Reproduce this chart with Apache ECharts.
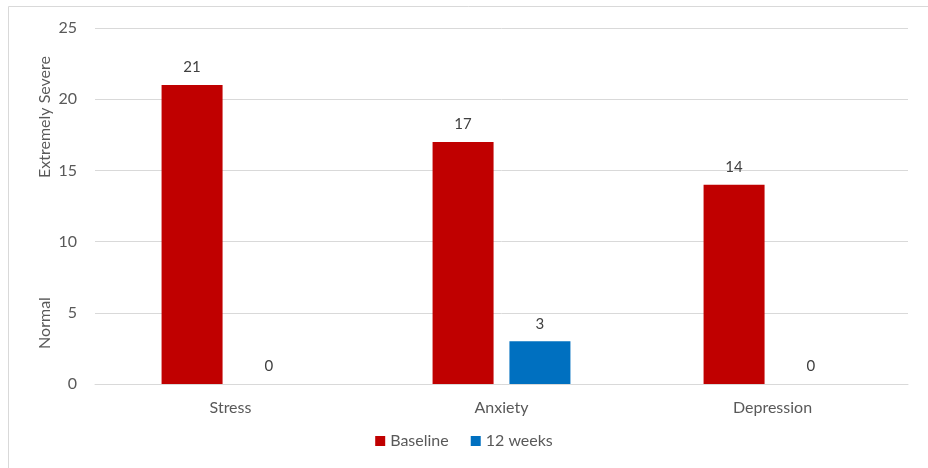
<!DOCTYPE html>
<html>
<head>
<meta charset="utf-8">
<script src="https://cdn.jsdelivr.net/npm/echarts@6/dist/echarts.min.js"></script>
<style>
html,body{margin:0;padding:0;background:#fff;}
#c{width:928px;height:468px;}
</style>
</head>
<body>
<div id="c"></div>
<script>
var categories = ['Stress', 'Anxiety', 'Depression'];
var baseline = [21, 17, 14];
var weeks12 = [0, 3, 0];
var seriesNames = ['Baseline', '12 weeks'];
var yTopLabel = 'Extremely Severe';
var yBottomLabel = 'Normal';

var FONT = 'Lato';
var chart = echarts.init(document.getElementById('c'), null, {renderer: 'canvas'});
var labelStyle = {show: true, position: 'top', distance: 10, color: '#404040', fontSize: 15, fontFamily: FONT};
chart.setOption({
  animation: false,
  backgroundColor: '#fff',
  textStyle: {fontFamily: FONT},
  grid: {left: 95, right: 20, top: 28, bottom: 84, containLabel: false},
  legend: {
    data: seriesNames,
    bottom: 14,
    left: 'center',
    icon: 'rect',
    itemWidth: 10,
    itemHeight: 10,
    itemGap: 22,
    textStyle: {color: '#595959', fontSize: 16, fontFamily: FONT}
  },
  xAxis: {
    type: 'category',
    data: categories,
    axisLine: {lineStyle: {color: '#d9d9d9'}},
    axisTick: {show: false},
    axisLabel: {color: '#595959', fontSize: 16, fontFamily: FONT, margin: 16}
  },
  yAxis: {
    type: 'value',
    min: 0, max: 25, interval: 5,
    axisLine: {show: false},
    axisTick: {show: false},
    splitLine: {lineStyle: {color: '#d9d9d9'}},
    axisLabel: {color: '#595959', fontSize: 16, fontFamily: FONT, margin: 18}
  },
  graphic: [
    {type: 'polyline', shape: {points: [[950, 6.5], [8.5, 6.5], [8.5, 470]]}, style: {fill: 'none', stroke: '#d9d9d9', lineWidth: 1}, silent: true},
    {type: 'text', x: 45, y: 117, rotation: Math.PI / 2, style: {text: yTopLabel, fill: '#595959', fontSize: 16, fontFamily: FONT, align: 'center', verticalAlign: 'middle'}},
    {type: 'text', x: 45, y: 323, rotation: Math.PI / 2, style: {text: yBottomLabel, fill: '#595959', fontSize: 16, fontFamily: FONT, align: 'center', verticalAlign: 'middle'}}
  ],
  series: [
    {name: seriesNames[0], type: 'bar', data: baseline, barWidth: 61, barGap: '26%', itemStyle: {color: '#C00000'}, label: labelStyle},
    {name: seriesNames[1], type: 'bar', data: weeks12, barWidth: 61, barGap: '26%', itemStyle: {color: '#0070C0'}, label: labelStyle}
  ]
});
</script>
</body>
</html>
